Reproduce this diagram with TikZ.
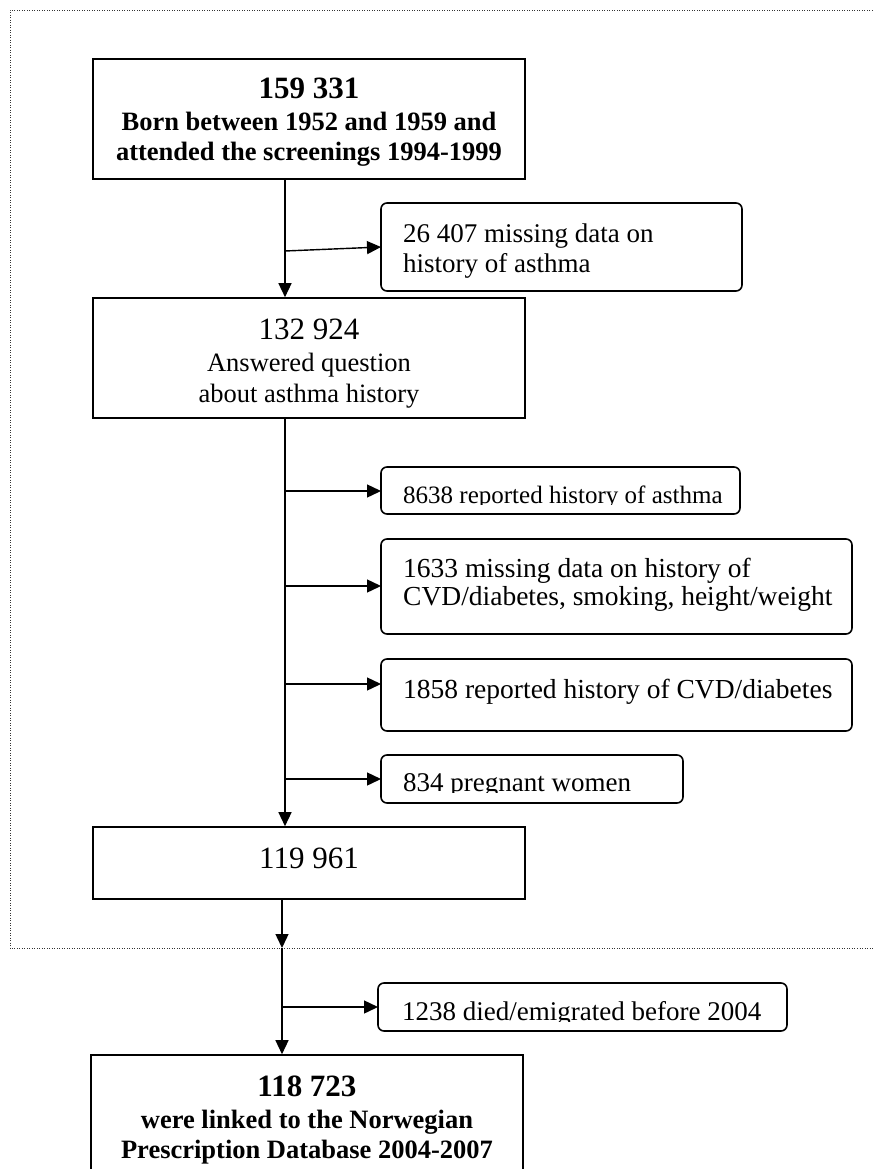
\documentclass[tikz,border=0pt]{standalone}
\usepackage{fontspec}
\setmainfont{Liberation Serif}
\usetikzlibrary{arrows.meta}
\tikzset{
  mainbox/.style={draw=black, line width=1.6pt, minimum width=432pt, inner sep=0pt, fill=white},
  sidebox/.style={draw=black, line width=1.6pt, rounded corners=6pt},
  arr/.style={line width=1.4pt, -{Triangle[length=14pt,width=13pt]}},
  txt/.style={inner sep=0pt, anchor=base},
  stxt/.style={inner sep=0pt, anchor=base west, font=\fontsize{27}{30}\selectfont},
  stxtw/.style={inner sep=0pt, anchor=base west, font=\fontsize{27.5}{30}\selectfont},
  stxtn/.style={inner sep=0pt, anchor=base west, font=\fontsize{25}{30}\selectfont},
  bigb/.style={font=\fontsize{31}{34}\selectfont\bfseries},
  smb/.style={font=\fontsize{26.5}{30}\selectfont\bfseries},
  bigr/.style={font=\fontsize{31}{34}\selectfont},
  smr/.style={font=\fontsize{26.5}{30}\selectfont},
  border/.style={line width=0.9pt, draw=black!80, dash pattern=on 0.9pt off 1.6pt}
}
\begin{document}
\begin{tikzpicture}[x=1pt,y=-1pt]
\clip (0,0) rectangle (874,1169);
\fill[white] (0,0) rectangle (874,1169);
% dotted frame
\draw[border] (890,10) -- (10,10) -- (10,948) -- (890,948);

% main boxes
\node[mainbox, minimum height=120pt] (b1) at (309,119) {};
\node[txt, bigb] (b1a) at (309,99) {159 331};
\node[txt, smb] (b1b) at (309,131) {Born between 1952 and 1959 and};
\node[txt, smb] (b1c) at (309,161) {attended the screenings 1994-1999};

\node[mainbox, minimum height=120pt] (b2) at (309,358) {};
\node[txt, bigr] (b2a) at (309,339) {132 924};
\node[txt, smr] (b2b) at (309,371) {Answered question};
\node[txt, smr] (b2c) at (309,402) {about asthma history};

\node[mainbox, minimum height=72pt] (b3) at (309,863) {};
\node[txt, bigr] (b3a) at (309,868) {119 961};

\node[mainbox, minimum height=140pt] (b4) at (307,1125) {};
\node[txt, bigb] (b4a) at (307,1096) {118 723};
\node[txt, smb] (b4b) at (307,1128) {were linked to the Norwegian};
\node[txt, smb] (b4c) at (307,1158) {Prescription Database 2004-2007};

% side boxes
\draw[sidebox] (381,203) rectangle (742,291);
\coordinate (s1) at (381,247);
\node[stxt] (s1a) at (403,242) {26 407 missing data on};
\node[stxt] (s1b) at (403,272) {history of asthma};

\draw[sidebox] (381,467) rectangle (740,514);
\coordinate (s2) at (381,491);
\begin{scope}
\clip (381,467) rectangle (740,504.5);
\node[stxtn] (s2a) at (403,503) {8638 reported history of asthma};
\end{scope}

\draw[sidebox] (381,539) rectangle (852,634);
\coordinate (s3) at (381,586);
\node[stxtw] (s3a) at (403,577) {1633 missing data on history of};
\node[stxtw] (s3b) at (403,605) {CVD/diabetes, smoking, height/weight};

\draw[sidebox] (381,659) rectangle (852,731);
\coordinate (s4) at (381,684);
\node[stxtw] (s4a) at (403,698) {1858 reported history of CVD/diabetes};

\draw[sidebox] (381,755) rectangle (683,803);
\coordinate (s5) at (381,779);
\begin{scope}
\clip (381,755) rectangle (683,792.5);
\node[stxt] (s5a) at (403,791) {834 pregnant women};
\end{scope}

\draw[sidebox] (378,983) rectangle (787,1031);
\coordinate (s6) at (378,1007);
\begin{scope}
\clip (378,983) rectangle (787,1021.5);
\node[stxt] (s6a) at (402,1020) {1238 died/emigrated before 2004};
\end{scope}

% junctions
\coordinate (j1) at (285,251);
\coordinate (j2) at (285,491);
\coordinate (j3) at (285,586);
\coordinate (j4) at (285,684);
\coordinate (j5) at (285,779);
\coordinate (j6) at (282,948);
\coordinate (j7) at (282,1007);

% connectors
\draw[arr] (b1.south -| j1) -- (b2.north -| j1);
\draw[arr] (j1) -- (s1);
\draw[arr] (b2.south -| j2) -- (b3.north -| j2);
\draw[arr] (j2) -- (s2);
\draw[arr] (j3) -- (s3);
\draw[arr] (j4) -- (s4);
\draw[arr] (j5) -- (s5);
\draw[arr] (b3.south -| j6) -- (j6);
\draw[arr] (j6) -- (b4.north -| j6);
\draw[arr] (j7) -- (s6);
\end{tikzpicture}
\end{document}
